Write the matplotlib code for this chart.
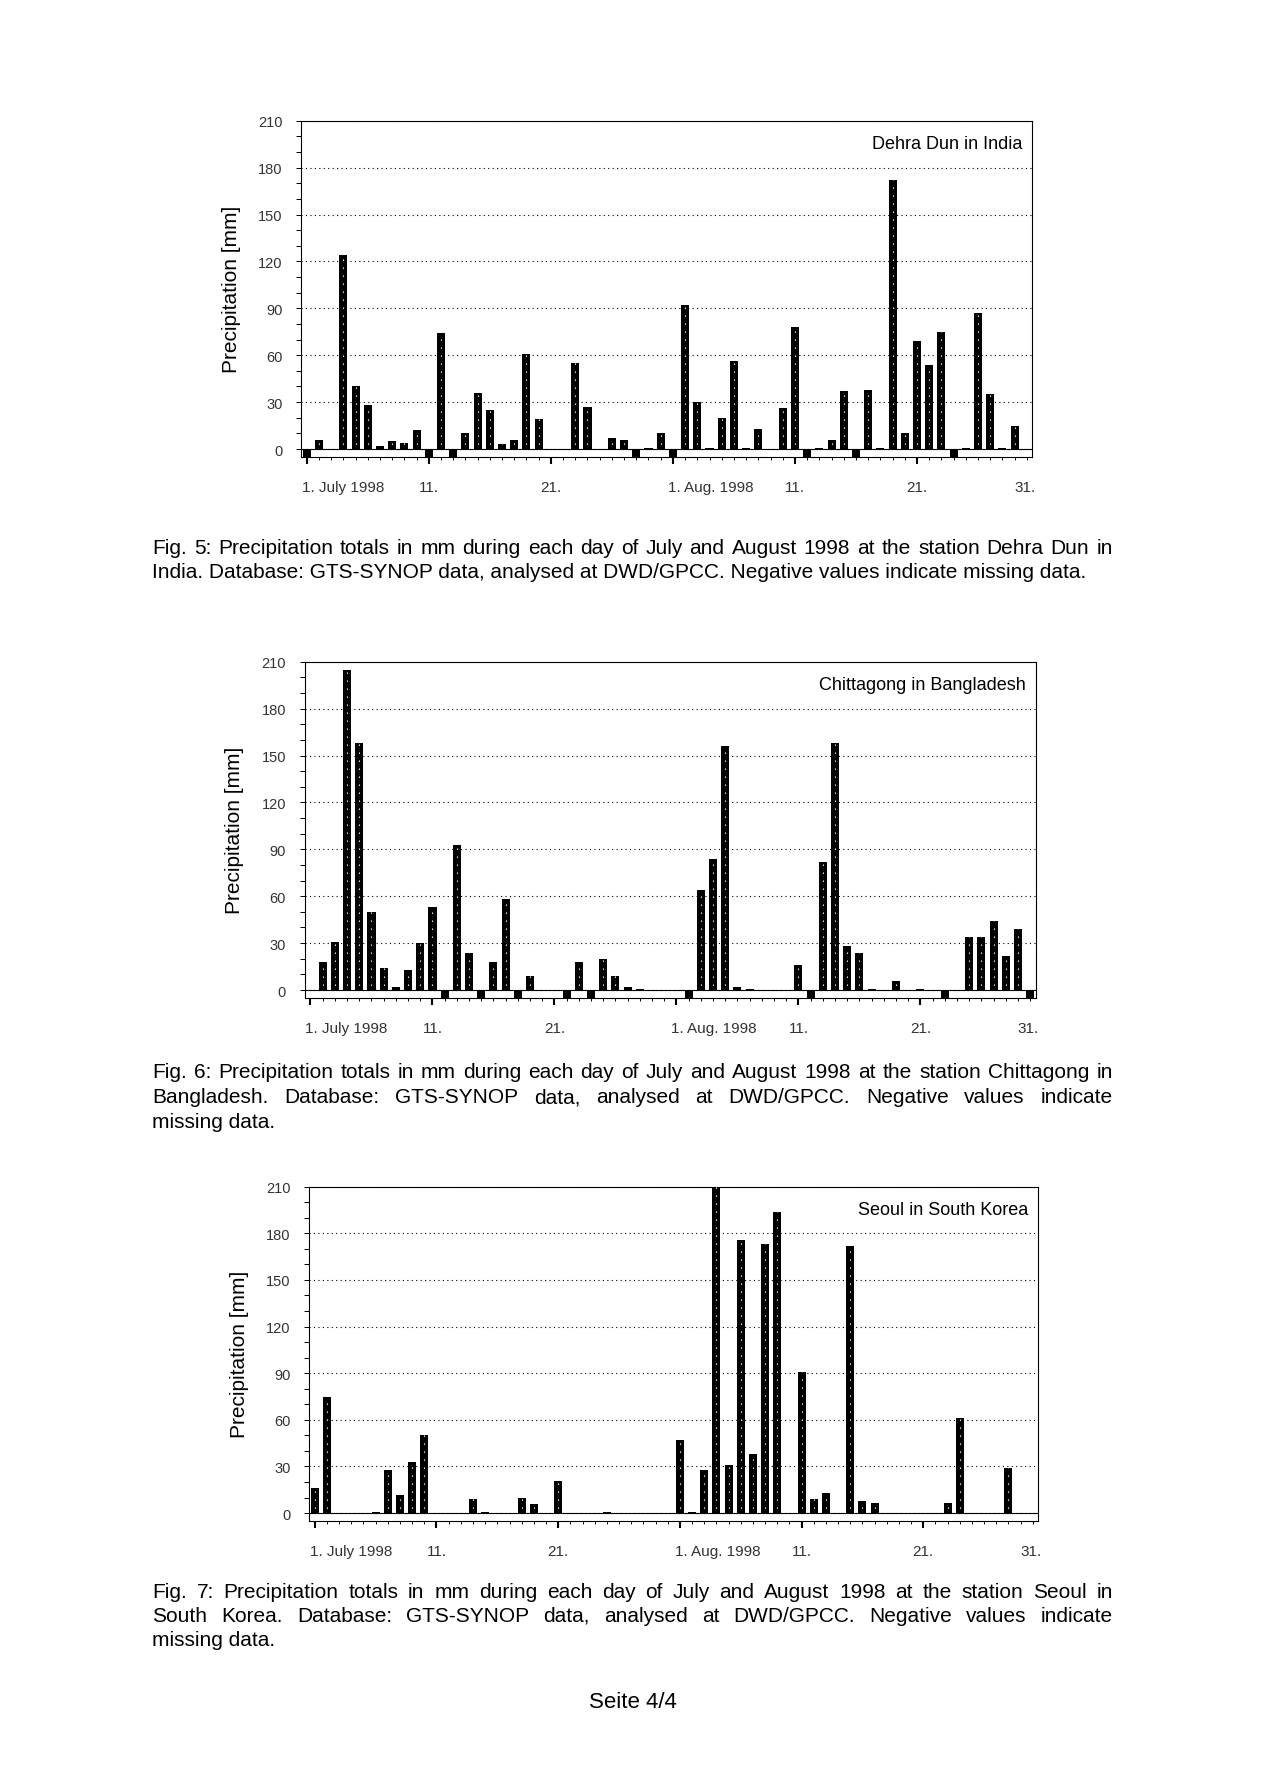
import numpy as np
import matplotlib
matplotlib.use('Agg')
import matplotlib.pyplot as plt
from matplotlib.ticker import MultipleLocator

plt.rcParams['font.family'] = ['Liberation Sans', 'DejaVu Sans']

# page size in pixels
W, H = 1265, 1790
DPI = 100

# day index along the x axis (the original plot squeezes Jul+Aug into 60 slots)
days = np.arange(60)
major_ticks = [0, 10, 20, 30, 40, 50]
major_labels = ['1. July 1998', '11.', '21.', '1. Aug. 1998', '11.', '21.']
end_label = '31.'

# daily precipitation in mm, -10 = missing (drawn as negative bar)
dehra_dun = [-10, 6, 0, 124, 40, 28, 2, 5, 4, 12,
             -10, 74, -10, 10, 36, 25, 3, 6, 61, 19,
             0, 0, 55, 27, 0, 7, 6, -10, 0.6, 10,
             -10, 92, 30, 0.6, 20, 56, 0.6, 13, 0, 26,
             78, -10, 0.6, 6, 37, -10, 38, 0.6, 172, 10,
             69, 54, 75, -10, 0.6, 87, 35, 0.6, 15, 0]
chittagong = [0, 18, 31, 205, 158, 50, 14, 2, 13, 30,
              53, -10, 93, 24, -10, 18, 58, -10, 9, 0,
              0, -10, 18, -10, 20, 9, 2, 0.6, 0, 0,
              0, -10, 64, 84, 156, 2, 0.6, 0, 0, 0,
              16, -10, 82, 158, 28, 24, 0.6, 0, 6, 0,
              0.6, 0, -10, 0, 34, 34, 44, 22, 39, -10]
seoul = [16, 75, 0, 0, 0, 0.6, 28, 11.5, 33, 50,
         0, 0, 0, 9, 0.6, 0, 0, 10, 6, 0,
         20.5, 0, 0, 0, 0.6, 0, 0, 0, 0, 0,
         47, 0.6, 28, 212, 31, 176, 38, 173, 194, 0,
         91, 9, 13, 0, 172, 8, 6.4, 0, 0, 0,
         0, 0, 6.4, 61, 0, 0, 0, 29, 0, 0]

stations = ['Dehra Dun in India', 'Chittagong in Bangladesh', 'Seoul in South Korea']

captions = [
    ['Fig. 5: Precipitation totals in mm during each day of July and August 1998 at the station Dehra Dun in',
     'India. Database: GTS-SYNOP data, analysed at DWD/GPCC. Negative values indicate missing data.'],
    ['Fig. 6: Precipitation totals in mm during each day of July and August 1998 at the station Chittagong in',
     'Bangladesh. Database: GTS-SYNOP data, analysed at DWD/GPCC. Negative values indicate',
     'missing data.'],
    ['Fig. 7: Precipitation totals in mm during each day of July and August 1998 at the station Seoul in',
     'South Korea. Database: GTS-SYNOP data, analysed at DWD/GPCC. Negative values indicate',
     'missing data.'],
]

fig = plt.figure(figsize=(W / DPI, H / DPI), dpi=DPI)
fig.patch.set_facecolor('white')


def add_axes_px(left, top, right, bottom):
    return fig.add_axes([left / W, 1 - bottom / H, (right - left) / W, (bottom - top) / H])


def draw_station(ax, values, title):
    vals = np.array(values, dtype=float)
    ax.set_xlim(-0.45, 59.45)
    ax.set_ylim(-4.9, 210)
    ax.set_axisbelow(True)

    ax.bar(days, vals, width=0.66, color='black', zorder=3)
    # white dotted column inside each bar
    pos = vals > 1.5
    ax.vlines(days[pos], 0, np.minimum(vals[pos], 210), colors='white', linewidth=0.8,
              linestyles=[(3, (1.2, 6))], zorder=4)
    ax.axhline(0, color='black', lw=0.8, zorder=2)

    ax.set_yticks(range(0, 211, 30))
    ax.yaxis.set_minor_locator(MultipleLocator(10))
    ax.yaxis.grid(True, which='major', linestyle=(0, (1, 3)), color='black', lw=0.8)
    ax.tick_params(axis='y', which='both', length=3.6, width=0.7, direction='out',
                   labelsize=10.5, pad=10, labelcolor='#333333')

    ax.set_xticks(major_ticks)
    ax.xaxis.set_minor_locator(MultipleLocator(1))
    ax.tick_params(axis='x', which='major', length=5, width=1.5, direction='out', labelbottom=False)
    ax.tick_params(axis='x', which='minor', length=2.2, width=0.7, direction='out')

    for sp in ax.spines.values():
        sp.set_linewidth(0.8)

    # x labels: the "1." labels start just left of their tick
    for p, lab in zip(major_ticks, major_labels):
        if lab.startswith('1. '):
            ha, dx = 'left', -5
        else:
            ha, dx = 'center', 0
        ax.annotate(lab, xy=(p, 0), xycoords=('data', 'axes fraction'), xytext=(dx, -34),
                    textcoords='offset pixels', ha=ha, va='baseline', fontsize=11,
                    color='#333333', annotation_clip=False)
    ax.annotate(end_label, xy=(1, 0), xycoords='axes fraction', xytext=(3, -34),
                textcoords='offset pixels', ha='right', va='baseline', fontsize=11,
                color='#333333', annotation_clip=False)

    ax.annotate(title, xy=(1, 1), xycoords='axes fraction', xytext=(-10, -27),
                textcoords='offset pixels', ha='right', va='baseline', fontsize=13)
    ax.annotate('Precipitation [mm]', xy=(0, 0.5), xycoords='axes fraction', xytext=(-70, 0),
                textcoords='offset pixels', ha='center', va='center', rotation=90, fontsize=15)


ax1 = add_axes_px(301.3, 121.7, 1032.3, 457.7)
draw_station(ax1, dehra_dun, stations[0])
ax2 = add_axes_px(305.0, 662.7, 1035.7, 998.7)
draw_station(ax2, chittagong, stations[1])
ax3 = add_axes_px(309.3, 1187.7, 1038.3, 1521.7)
draw_station(ax3, seoul, stations[2])

# captions, justified like the word document
renderer = fig.canvas.get_renderer()
CAP_LEFT, CAP_RIGHT = 152, 1112.7
CAP_SIZE = 15


def caption_block(lines, first_baseline, step=24.5):
    for i, line in enumerate(lines):
        y = 1 - (first_baseline + i * step) / H
        if i == len(lines) - 1:
            fig.text(CAP_LEFT / W, y, line, fontsize=CAP_SIZE, va='baseline', ha='left')
            continue
        words = line.split(' ')
        objs = [fig.text(0, y, w, fontsize=CAP_SIZE, va='baseline', ha='left') for w in words]
        widths = [o.get_window_extent(renderer).width for o in objs]
        gap = (CAP_RIGHT - CAP_LEFT - sum(widths)) / (len(words) - 1)
        x = CAP_LEFT
        for o, w in zip(objs, widths):
            o.set_x(x / W)
            x += w + gap


caption_block(captions[0], 553.5)
caption_block(captions[1], 1078.5)
caption_block(captions[2], 1597.5)

fig.text(632.5 / W, 1 - 1708 / H, 'Seite 4/4', fontsize=16, ha='center', va='baseline')

fig.savefig('out.png', dpi=DPI)
